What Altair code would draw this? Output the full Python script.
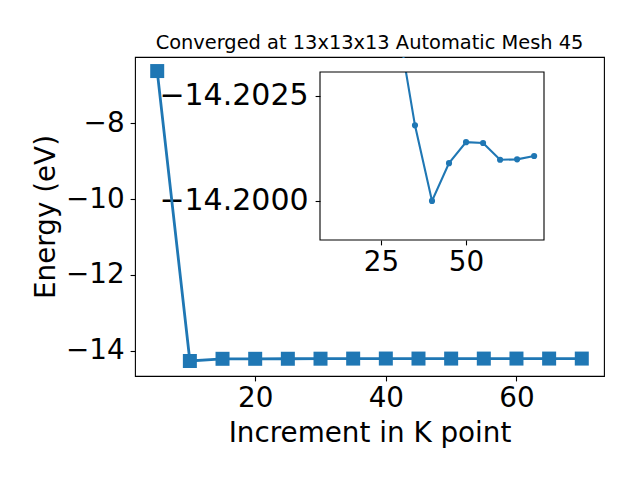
import altair as alt
import pandas as pd

# ---- data ----
k_points = [5, 10, 15, 20, 25, 30, 35, 40, 45, 50, 55, 60, 65, 70]
energies = [-6.63, -14.265, -14.207, -14.207, -14.206, -14.2042, -14.2018,
            -14.2000, -14.2009, -14.2014, -14.20138, -14.20098, -14.20099, -14.20107]

main_x_domain = [1.6, 73.4]
main_y_domain = [-14.66, -6.26]
main_x_ticks = [20, 40, 60]
main_y_ticks = [-14, -12, -10, -8]

inset_first_k = 10                        # inset shows k = 10 ... 70
inset_x_domain = [7.1, 72.9]
inset_y_domain = [-14.20307, -14.19907]   # inverted: more negative at top
inset_x_ticks = [25, 50]
inset_y_ticks = [-14.2025, -14.2000]

title_text = "Converged at 13x13x13 Automatic Mesh 45"
x_title = "Increment in K point"
y_title = "Energy (eV)"

# ---- layout / style ----
W, H = 469, 319
INSET_XR = [185, 409]
INSET_YR = [15, 183]
BLUE = "#1f77b4"
FONT = "DejaVu Sans"
FS = 27.8

df = pd.DataFrame({"k": k_points, "E": energies})

mx = alt.Scale(domain=main_x_domain, nice=False, zero=False)
my = alt.Scale(domain=main_y_domain, nice=False, zero=False)
ix = alt.Scale(domain=inset_x_domain, range=INSET_XR, nice=False, zero=False)
iy = alt.Scale(domain=inset_y_domain, range=INSET_YR, nice=False, zero=False)

main_line = alt.Chart(df).mark_line(color=BLUE, strokeWidth=2.8, clip=True).encode(
    x=alt.X("k:Q", scale=mx,
            axis=alt.Axis(values=main_x_ticks, title=x_title, labelPadding=3.5,
                          titleY=65, titleBaseline="alphabetic", labelFlush=False)),
    y=alt.Y("E:Q", scale=my,
            axis=alt.Axis(values=main_y_ticks, title=y_title, labelPadding=6,
                          titleX=-81, titleY=H / 2, titleBaseline="alphabetic",
                          titleAngle=270, titleAlign="center")),
)
main_pts = alt.Chart(df).mark_point(shape="square", filled=True, size=196,
                                    opacity=1, color=BLUE, clip=True).encode(
    x=alt.X("k:Q", scale=mx, axis=None),
    y=alt.Y("E:Q", scale=my, axis=None),
)

inset_base = alt.Chart(df).transform_filter(alt.datum.k >= inset_first_k)
inset_line = inset_base.mark_line(color=BLUE, strokeWidth=2.1, clip=True).encode(
    x=alt.X("k:Q", scale=ix,
            axis=alt.Axis(values=inset_x_ticks, title=None, orient="bottom",
                          offset=-(H - INSET_YR[1]), labelPadding=3.5, labelFlush=False)),
    y=alt.Y("E:Q", scale=iy,
            axis=alt.Axis(values=inset_y_ticks, title=None, orient="left", format=".4f",
                          offset=-INSET_XR[0], labelPadding=7, labelFontSize=30)),
)
inset_pts = inset_base.mark_point(shape="circle", filled=True, size=38,
                                  opacity=1, color=BLUE, clip=True).encode(
    x=alt.X("k:Q", scale=ix, axis=None),
    y=alt.Y("E:Q", scale=iy, axis=None),
)

mask = alt.Chart(pd.DataFrame({"a": [0]})).mark_rect(color="white").encode(
    x=alt.value(INSET_XR[0] - 1), x2=alt.value(INSET_XR[1] + 1),
    y=alt.value(1), y2=alt.value(INSET_YR[0]),
)

frame_df = pd.DataFrame({"x0": [inset_x_domain[0]], "x1": [inset_x_domain[1]],
                         "y0": [inset_y_domain[0]], "y1": [inset_y_domain[1]]})
frame = alt.Chart(frame_df).mark_rect(fillOpacity=0, stroke="black", strokeWidth=1.1).encode(
    x=alt.X("x0:Q", scale=ix, axis=None), x2="x1:Q",
    y=alt.Y("y0:Q", scale=iy, axis=None), y2="y1:Q",
)

title = alt.Chart(pd.DataFrame({"t": [title_text]})).mark_text(
    font=FONT, fontSize=19.4, color="black", align="center", baseline="alphabetic",
).encode(text="t:N", x=alt.value(W / 2), y=alt.value(-8.5))

chart = alt.layer(main_line, main_pts, inset_line, inset_pts, mask, frame, title).resolve_scale(
    x="independent", y="independent"
).properties(
    width=W, height=H,
    autosize=alt.AutoSizeParams(type="none"),
    padding={"left": 127, "top": 49, "right": 28, "bottom": 88},
).configure_view(stroke="black", strokeWidth=1.1).configure_axis(
    grid=False, domain=False, labelFont=FONT, labelFontSize=FS, labelColor="black",
    tickColor="black", tickWidth=1.1, tickSize=4.9,
    titleFont=FONT, titleFontSize=FS, titleFontWeight="normal", titleColor="black",
)

chart.save("out.html", embed_options={"renderer": "svg", "actions": False})
